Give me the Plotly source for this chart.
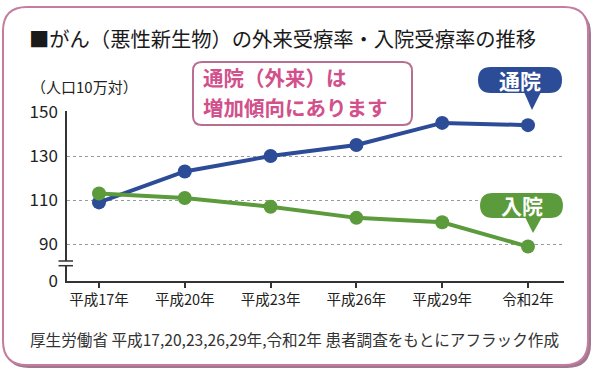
import plotly.graph_objects as go

# ---- data ----
categories = ["平成17年", "平成20年", "平成23年", "平成26年", "平成29年", "令和2年"]
outpatient = [109, 123, 130, 135, 145, 144]   # 通院（外来）
inpatient = [113, 111, 107, 102, 100, 89]     # 入院
y_tick_text = ["0", "90", "110", "130", "150"]
y_tick_vals = [73.4, 90, 110, 130, 150]       # 0 is drawn on a broken axis

FONT = "Noto Sans CJK JP"
BLUE = "#2d4c97"
GREEN = "#5b9b3b"

# plot area in pixels
L, R, T, B = 67, 564, 111, 281
W, H = 600, 377


def px(x):
    return (x - L) / (R - L)


def py(y):
    return (B - y) / (B - T)


def pt(x, y):
    return f"{px(x):.5f},{py(y):.5f}"


def rrect(x0, y0, x1, y1, r):
    return (f"M {pt(x0 + r, y0)} L {pt(x1 - r, y0)} Q {pt(x1, y0)} {pt(x1, y0 + r)} "
            f"L {pt(x1, y1 - r)} Q {pt(x1, y1)} {pt(x1 - r, y1)} "
            f"L {pt(x0 + r, y1)} Q {pt(x0, y1)} {pt(x0, y1 - r)} "
            f"L {pt(x0, y0 + r)} Q {pt(x0, y0)} {pt(x0 + r, y0)} Z")


def tri(a, b, c):
    return f"M {pt(*a)} L {pt(*b)} L {pt(*c)} Z"


fig = go.Figure()
fig.add_trace(go.Scatter(
    x=categories, y=outpatient, mode="lines+markers", name="通院",
    line=dict(color=BLUE, width=4), marker=dict(color=BLUE, size=14),
    cliponaxis=False, hoverinfo="skip"))
fig.add_trace(go.Scatter(
    x=categories, y=inpatient, mode="lines+markers", name="入院",
    line=dict(color=GREEN, width=4), marker=dict(color=GREEN, size=14),
    cliponaxis=False, hoverinfo="skip"))

shapes = []
# frame shadow + frame
shapes.append(dict(type="path", xref="paper", yref="paper", layer="below",
                   path=rrect(5, 10, 591, 368, 24), fillcolor="#a07890",
                   line=dict(width=0)))
shapes.append(dict(type="path", xref="paper", yref="paper", layer="below",
                   path=rrect(3, 7, 588, 365, 24), fillcolor="white",
                   line=dict(color="#c47d9f", width=2)))
# message box
shapes.append(dict(type="path", xref="paper", yref="paper", layer="above",
                   path=rrect(193, 62, 412, 125, 9), fillcolor="white",
                   line=dict(color="#b86e90", width=2)))
# blue bubble
shapes.append(dict(type="path", xref="paper", yref="paper", layer="above",
                   path=rrect(478, 67, 562, 93, 13), fillcolor=BLUE, line=dict(width=0)))
shapes.append(dict(type="path", xref="paper", yref="paper", layer="above",
                   path=tri((524, 92), (541, 92), (532, 110)), fillcolor=BLUE, line=dict(width=0)))
# green bubble
shapes.append(dict(type="path", xref="paper", yref="paper", layer="above",
                   path=rrect(480, 193, 563, 218, 13), fillcolor=GREEN, line=dict(width=0)))
shapes.append(dict(type="path", xref="paper", yref="paper", layer="above",
                   path=tri((525, 217), (542, 217), (533, 233)), fillcolor=GREEN, line=dict(width=0)))
# axis break
shapes.append(dict(type="rect", xref="paper", yref="paper", layer="above",
                   x0=px(64), x1=px(70), y0=py(266), y1=py(261),
                   fillcolor="white", line=dict(width=0)))
for yy in (261, 265.7):
    shapes.append(dict(type="line", xref="paper", yref="paper", layer="above",
                       x0=px(58.5), x1=px(73), y0=py(yy), y1=py(yy),
                       line=dict(color="#333333", width=1.5)))


def note(text, x, y, size, color, anchor="left", **kw):
    return dict(text=text, x=px(x), y=py(y), xref="paper", yref="paper",
                xanchor=anchor, yanchor="middle", showarrow=False,
                font=dict(family=FONT, size=size, color=color), **kw)


annotations = [
    note("■がん（悪性新生物）の外来受療率・入院受療率の推移", 27, 38, 20.3, "#1a1a1a"),
    note("（人口10万対）", 29, 86, 15, "#222222"),
    note("<b>通院（外来）は</b>", 201, 77, 20.5, "#d2508b"),
    note("<b>増加傾向にあります</b>", 201, 107, 20.5, "#d2508b"),
    note("<b>通院</b>", 520, 80, 21, "white", "center"),
    note("<b>入院</b>", 521.5, 205, 21, "white", "center"),
    note("厚生労働省 平成17,20,23,26,29年,令和2年 患者調査をもとにアフラック作成",
         28, 339, 15.6, "#333333"),
]

fig.update_layout(
    width=W, height=H,
    margin=dict(l=L, r=W - R, t=T, b=H - B, pad=0),
    paper_bgcolor="white", plot_bgcolor="rgba(0,0,0,0)",
    showlegend=False,
    font=dict(family=FONT, color="#222222"),
    shapes=shapes, annotations=annotations,
    xaxis=dict(type="category", range=[-0.373, 5.42], showgrid=False,
               showline=True, linecolor="#333333", linewidth=1.5,
               ticks="outside", ticklen=5, tickcolor="#333333", tickwidth=1.5,
               tickfont=dict(family=FONT, size=14.5, color="#222222"), fixedrange=True),
    yaxis=dict(range=[73.4, 150.4], tickmode="array", tickvals=y_tick_vals,
               ticktext=y_tick_text, showgrid=True, gridcolor="#9a9a9a",
               griddash="dot", gridwidth=1, zeroline=False,
               showline=True, linecolor="#333333", linewidth=1.5, ticks="",
               ticklabelstandoff=4,
               tickfont=dict(family=FONT, size=17, color="#222222"), fixedrange=True),
)

fig.write_html("out.html", config={"displayModeBar": False},
               post_script="document.body.style.margin='0';document.body.style.padding='0';")
